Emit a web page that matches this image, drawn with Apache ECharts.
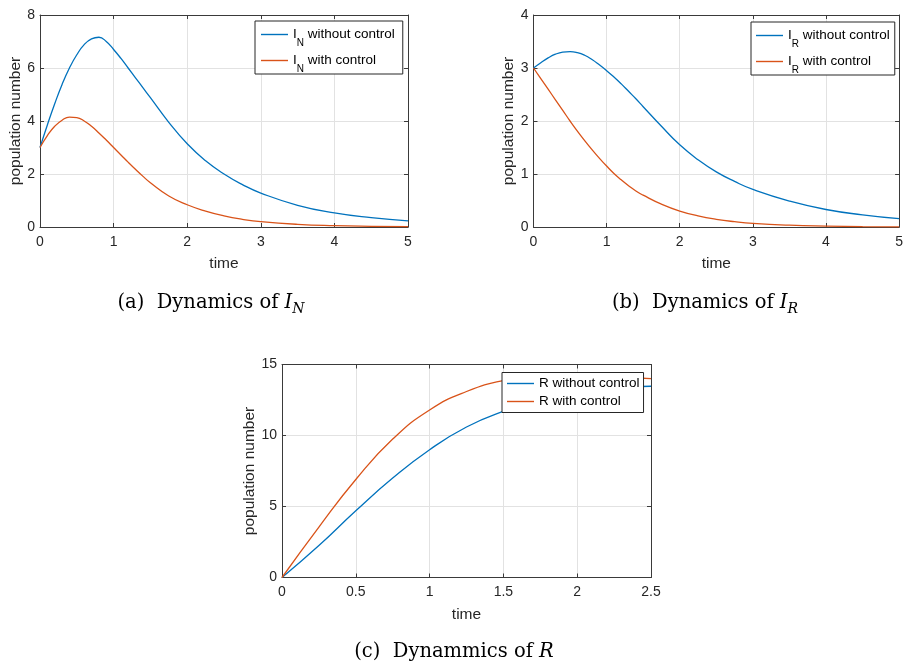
<!DOCTYPE html>
<html><head><meta charset="utf-8">
<script src="https://cdn.jsdelivr.net/npm/echarts@6/dist/echarts.min.js"></script>
<style>html,body{margin:0;padding:0;background:#fff}#c{width:906px;height:667px}</style>
</head><body><div id="c"></div>
<script>
// ---- data ----
const timeA = [0,0.1,0.2,0.3,0.4,0.5,0.6,0.7,0.8,0.9,1.0,1.1,1.2,1.3,1.4,1.5,1.75,2.0,2.25,2.5,2.75,3.0,3.5,4.0,4.5,5.0];
const inWithout = [3,3.85,4.65,5.38,6.0,6.5,6.88,7.1,7.16,7.0,6.70,6.36,5.99,5.62,5.25,4.88,3.95,3.14,2.5,2.0,1.6,1.28,0.82,0.53,0.35,0.23];
const inWith = [3,3.45,3.8,4.03,4.15,4.13,4.0,3.8,3.55,3.28,3.0,2.72,2.44,2.17,1.91,1.67,1.17,0.84,0.6,0.42,0.29,0.2,0.1,0.05,0.025,0.012];

const timeB = [0,0.1,0.2,0.3,0.4,0.5,0.6,0.7,0.8,0.9,1.0,1.1,1.2,1.3,1.4,1.5,1.75,2.0,2.25,2.5,2.75,3.0,3.5,4.0,4.5,5.0];
const irWithout = [3,3.1,3.19,3.26,3.3,3.31,3.29,3.24,3.16,3.06,2.95,2.83,2.7,2.56,2.42,2.27,1.9,1.55,1.27,1.04,0.86,0.71,0.49,0.33,0.23,0.157];
const irWith = [3,2.8,2.6,2.4,2.2,2.0,1.81,1.63,1.46,1.3,1.15,1.01,0.89,0.78,0.68,0.6,0.43,0.3,0.21,0.145,0.1,0.068,0.034,0.017,0.008,0.004];

const timeC = [0,0.25,0.5,0.75,1.0,1.25,1.5,1.75,2.0,2.25,2.5];
const rWithout = [0,2.25,4.7,7.0,9.0,10.6,11.7,12.5,13.05,13.35,13.47];
const rWith = [0,3.55,6.9,9.75,11.8,13.1,13.87,14.15,14.2,14.12,14.0];

const xTicksAB = [0,1,2,3,4,5];
const xTicksC = [0,0.5,1,1.5,2,2.5];
const yTicksA = [0,2,4,6,8];
const yTicksB = [0,1,2,3,4];
const yTicksC = [0,5,10,15];

// ---- styling ----
const SANS = 'Liberation Sans, Arial, Helvetica, sans-serif';
const SERIF = 'DejaVu Serif, serif';
const AX = '#3a3a3a';
const TXT = '#262626';
const GRIDC = '#e2e2e2';
const BLUE = '#0072BD';
const ORANGE = '#D95319';

function pts(t, v) { return t.map((x, i) => [x, v[i]]); }

function xAxes(gi, ticks) {
  const min = ticks[0], max = ticks[ticks.length - 1], interval = ticks[1] - ticks[0];
  return [
    {type:'value', gridIndex:gi, min, max, interval, position:'bottom',
     axisLine:{show:true, onZero:false, lineStyle:{color:AX, width:1}},
     axisTick:{show:true, inside:true, length:4, lineStyle:{color:AX}},
     axisLabel:{color:TXT, fontSize:14, margin:8, fontFamily:SANS},
     splitLine:{show:true, lineStyle:{color:GRIDC, width:1}},
     name:'time', nameLocation:'middle', nameGap:29,
     nameTextStyle:{color:TXT, fontSize:15.5, fontFamily:SANS}},
    {type:'value', gridIndex:gi, min, max, interval, position:'top',
     axisLine:{show:true, onZero:false, lineStyle:{color:AX, width:1}},
     axisTick:{show:true, inside:true, length:4, lineStyle:{color:AX}},
     axisLabel:{show:false}, splitLine:{show:false}}
  ];
}
function yAxes(gi, ticks) {
  const min = ticks[0], max = ticks[ticks.length - 1], interval = ticks[1] - ticks[0];
  return [
    {type:'value', gridIndex:gi, min, max, interval, position:'left',
     axisLine:{show:true, onZero:false, lineStyle:{color:AX, width:1}},
     axisTick:{show:true, inside:true, length:4, lineStyle:{color:AX}},
     axisLabel:{color:TXT, fontSize:14, margin:5, fontFamily:SANS},
     splitLine:{show:true, lineStyle:{color:GRIDC, width:1}},
     name:'population number', nameLocation:'middle', nameGap:15, nameRotate:90,
     nameTextStyle:{color:TXT, fontSize:15.5, fontFamily:SANS}},
    {type:'value', gridIndex:gi, min, max, interval, position:'right',
     axisLine:{show:true, onZero:false, lineStyle:{color:AX, width:1}},
     axisTick:{show:true, inside:true, length:4, lineStyle:{color:AX}},
     axisLabel:{show:false}, splitLine:{show:false}}
  ];
}
function line(name, gi, t, v, color) {
  return {type:'line', name, xAxisIndex:gi*2, yAxisIndex:gi*2, data:pts(t, v),
    symbol:'none', showSymbol:false, smooth:true, animation:false,
    lineStyle:{color, width:1.3}, itemStyle:{color}};
}

const legendLabels = {
  'IN without control':'{n|I}{s|N}{n| without control}',
  'IN with control':'{n|I}{s|N}{n| with control}',
  'IR without control':'{n|I}{s|R}{n| without control}',
  'IR with control':'{n|I}{s|R}{n| with control}',
  'R without control':'{n|R without control}',
  'R with control':'{n|R with control}'
};
const legendRich = {
  n:{fontSize:13.5, fontFamily:SANS, color:'#000'},
  s:{fontSize:10, fontFamily:SANS, color:'#000', lineHeight:9, padding:[17,0,0,0]}
};
function legend(names, left, top, padding, gap) {
  return {data:names, orient:'vertical', left, top, padding, itemGap:gap,
    icon:'rect', itemWidth:27, itemHeight:1.4, selectedMode:false,
    backgroundColor:'#fff', borderColor:'#262626', borderWidth:1,
    formatter:(n) => legendLabels[n],
    textStyle:{fontSize:13.5, fontFamily:SANS, color:'#000', rich:legendRich}};
}

function caption(x, y, label, sym, sub) {
  const rich = {
    t:{fontFamily:SERIF, fontSize:19.5, fill:'#000'},
    m:{fontFamily:SERIF, fontSize:19.5, fontStyle:'italic', fill:'#000'},
    s:{fontFamily:SERIF, fontSize:14, fontStyle:'italic', fill:'#000', lineHeight:12, padding:[13,0,0,0]}
  };
  let text = '{t|' + label + '}{m|' + sym + '}';
  if (sub) text += '{s|' + sub + '}';
  return {type:'text', x, y, silent:true,
    style:{text, rich, align:'center', verticalAlign:'middle', fill:'#000'}};
}

const chart = echarts.init(document.getElementById('c'), null, {renderer:'canvas'});
chart.setOption({
  backgroundColor:'#fff',
  animation:false,
  grid:[
    {left:40, top:15, width:368, height:212},
    {left:533.5, top:15, width:369, height:212},
    {left:282, top:364.5, width:369, height:213}
  ],
  xAxis:[...xAxes(0, xTicksAB), ...xAxes(1, xTicksAB), ...xAxes(2, xTicksC)],
  yAxis:[...yAxes(0, yTicksA), ...yAxes(1, yTicksB), ...yAxes(2, yTicksC)],
  legend:[
    legend(['IN without control','IN with control'], 255, 21, [0,8,0,6], -1),
    legend(['IR without control','IR with control'], 751, 22, [0,5,0,5], -1),
    legend(['R without control','R with control'], 502, 372.5, [4,4,4,5], 4)
  ],
  series:[
    line('IN without control', 0, timeA, inWithout, BLUE),
    line('IN with control', 0, timeA, inWith, ORANGE),
    line('IR without control', 1, timeB, irWithout, BLUE),
    line('IR with control', 1, timeB, irWith, ORANGE),
    line('R without control', 2, timeC, rWithout, BLUE),
    line('R with control', 2, timeC, rWith, ORANGE)
  ],
  graphic:[
    caption(211, 303, '(a)  Dynamics of ', 'I', 'N'),
    caption(705, 303, '(b)  Dynamics of ', 'I', 'R'),
    caption(454, 652, '(c)  Dynammics of ', 'R', '')
  ]
});
</script></body></html>
